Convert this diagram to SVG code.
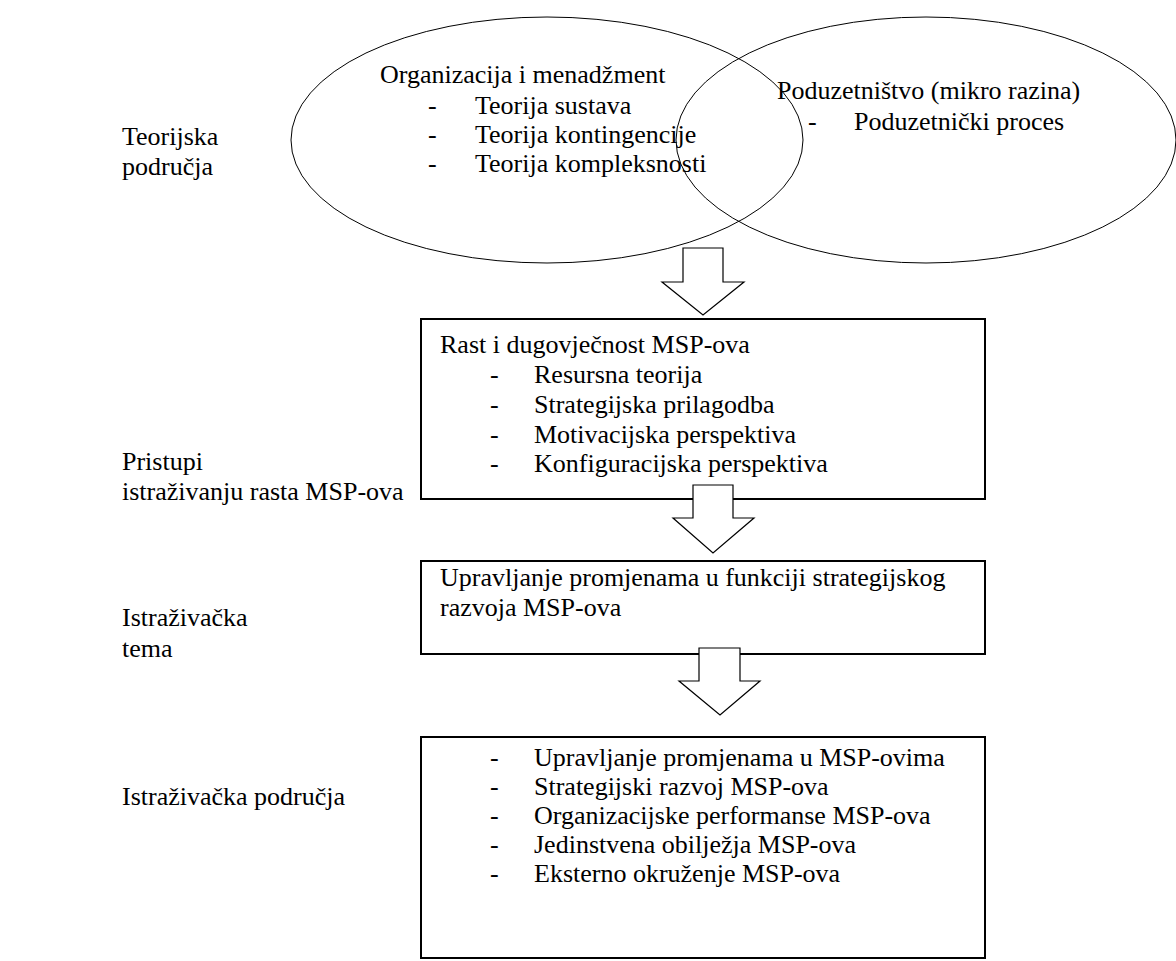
<svg xmlns="http://www.w3.org/2000/svg" width="1176" height="961" viewBox="0 0 1176 961">
<style>
text{font-family:"Liberation Serif","Times New Roman",serif;font-size:26px;fill:#000}
.ell{fill:none;stroke:#000;stroke-width:1}
.box{fill:#fff;stroke:#000;stroke-width:2}
.arr{fill:#fff;stroke:#000;stroke-width:1.2;stroke-linejoin:miter}
</style>
<rect width="1176" height="961" fill="#fff"/>
<g id="labels">
<text x="122" y="145">Teorijska</text>
<text x="122" y="175">područja</text>
<text x="122" y="470">Pristupi</text>
<text x="122" y="500">istraživanju rasta MSP-ova</text>
<text x="122" y="626">Istraživačka</text>
<text x="122" y="657">tema</text>
<text x="122" y="805">Istraživačka područja</text>
</g>
<g id="ellipse-org">
<ellipse class="ell" cx="547" cy="140" rx="256" ry="123"/>
<text x="380" y="83">Organizacija i menadžment</text>
<text x="428" y="114">-</text><text x="475" y="114">Teorija sustava</text>
<text x="428" y="143">-</text><text x="475" y="143">Teorija kontingencije</text>
<text x="428" y="172">-</text><text x="475" y="172">Teorija kompleksnosti</text>
</g>
<g id="ellipse-pod">
<ellipse class="ell" cx="926" cy="140" rx="250" ry="123"/>
<text x="777" y="99">Poduzetništvo (mikro razina)</text>
<text x="808" y="130">-</text><text x="854" y="130">Poduzetnički proces</text>
</g>
<g id="box-rast">
<rect class="box" x="421" y="319" width="564" height="180"/>
<text x="440" y="353">Rast i dugovječnost MSP-ova</text>
<text x="490" y="383">-</text><text x="534" y="383">Resursna teorija</text>
<text x="490" y="413">-</text><text x="534" y="413">Strategijska prilagodba</text>
<text x="490" y="443">-</text><text x="534" y="443">Motivacijska perspektiva</text>
<text x="490" y="472">-</text><text x="534" y="472">Konfiguracijska perspektiva</text>
</g>
<g id="box-tema">
<rect class="box" x="421" y="561" width="564" height="93"/>
<text x="440" y="586">Upravljanje promjenama u funkciji strategijskog</text>
<text x="440" y="616">razvoja MSP-ova</text>
</g>
<g id="box-podrucja">
<rect class="box" x="421" y="737" width="564" height="221"/>
<text x="490" y="766">-</text><text x="534" y="766">Upravljanje promjenama u MSP-ovima</text>
<text x="490" y="795">-</text><text x="534" y="795">Strategijski razvoj MSP-ova</text>
<text x="490" y="824">-</text><text x="534" y="824">Organizacijske performanse MSP-ova</text>
<text x="490" y="853">-</text><text x="534" y="853">Jedinstvena obilježja MSP-ova</text>
<text x="490" y="882">-</text><text x="534" y="882">Eksterno okruženje MSP-ova</text>
</g>
<g id="connectors">
<polygon class="arr" points="683,248 723,248 723,282 744,282 703,315 662,282 683,282"/>
<polygon class="arr" points="693,485 733,485 733,518 754,518 713,553 673,518 693,518"/>
<polygon class="arr" points="699,648 740,648 740,681 760,681 720,715 679,681 699,681"/>
</g>
</svg>
